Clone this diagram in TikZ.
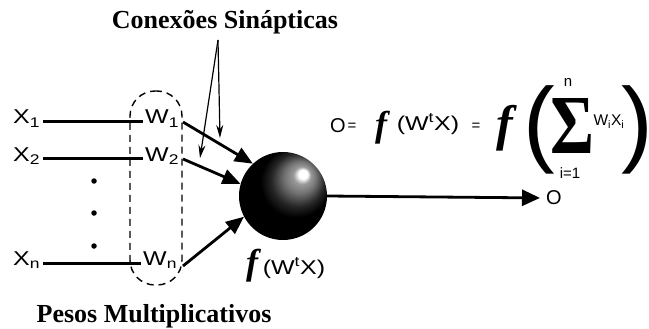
\documentclass[tikz,border=0pt]{standalone}
\usepackage{fontspec}
\setmainfont{Liberation Serif}
\setsansfont{Liberation Sans}
\usepackage{graphicx}
\usetikzlibrary{arrows.meta}
\pgfdeclareradialshading{sphshade}{\pgfpoint{12bp}{13bp}}{color(0bp)=(white); color(2.5bp)=(white); color(5bp)=(white!60!black); color(9bp)=(black!55); color(15bp)=(black!85); color(20bp)=(black); color(50bp)=(black)}
\newcommand{\wideT}[1]{\scalebox{1.25}[1]{#1}}
\begin{document}
\begin{tikzpicture}[x=1pt,y=-1pt,
  title/.style={font=\fontsize{26}{28}\selectfont\bfseries, inner sep=0pt},
  lab/.style={font=\fontsize{20}{21}\selectfont\sffamily, inner sep=0pt},
  small/.style={font=\fontsize{15}{16}\selectfont\sffamily, inner sep=0pt},
  bigf/.style={font=\fontsize{36}{36}\selectfont\bfseries\itshape, inner sep=0pt},
  hugef/.style={font=\fontsize{50}{50}\selectfont\bfseries\itshape, inner sep=0pt},
  paren/.style={font=\fontsize{95}{95}\selectfont\sffamily, inner sep=0pt},
  inline/.style={line width=3pt},
  bigarrow/.style={line width=2.8pt, -{Triangle[length=18pt,width=15pt]}},
  thinarrow/.style={line width=1.2pt, -{Stealth[length=13pt,width=7pt]}},
  grpbox/.style={draw, dash pattern=on 7pt off 5pt, line width=1.4pt, rounded corners=25pt, minimum width=52pt, minimum height=194pt},
  dotm/.style={fill=black, circle, inner sep=0pt, minimum size=5.5pt}]
\fill[white] (0,0) rectangle (649,329);
\useasboundingbox (0,0) rectangle (649,329);

% titles
\node[title, anchor=base] (cs) at (225,29) {Conexões Sinápticas};
\node[title, anchor=base] (pm) at (154,322) {Pesos Multiplicativos};

% inputs
\node[lab, anchor=base west] (x1) at (13,124) {\wideT{X\textsubscript{1}}};
\node[lab, anchor=base west] (x2) at (13,161) {\wideT{X\textsubscript{2}}};
\node[lab, anchor=base west] (xn) at (13,265) {\wideT{X\textsubscript{n}}};
\node[lab, anchor=base west] (w1) at (145,124) {\wideT{W\textsubscript{1}}};
\node[lab, anchor=base west] (w2) at (145,161) {\wideT{W\textsubscript{2}}};
\node[lab, anchor=base west] (wn) at (143,265) {\wideT{W\textsubscript{n}}};

\draw[inline] ([xshift=3pt,yshift=2pt]x1.base east) -- ([xshift=-2pt,yshift=2pt]w1.base west);
\draw[inline] ([xshift=3pt,yshift=2pt]x2.base east) -- ([xshift=-2pt,yshift=2pt]w2.base west);
\draw[inline] ([xshift=3pt,yshift=2pt]xn.base east) -- ([xshift=-2pt,yshift=2pt]wn.base west);

\node[dotm] (d1) at (94,181) {};
\node[dotm] (d2) at (94,213) {};
\node[dotm] (d3) at (94,246) {};

% dashed group
\node[grpbox] (grp) at (156,188) {};

% neuron
\node[circle, minimum size=88pt, inner sep=0pt, shade, shading=sphshade] (sph) at (283,196) {};

\coordinate (s1) at (183,122);
\coordinate (s2) at (183,159);
\coordinate (sn) at (183,266);
\draw[bigarrow] (s1) -- (sph.133);
\draw[bigarrow] (s2) -- (sph.164);
\draw[bigarrow] (sn) -- (sph.208);

% synaptic pointers
\coordinate (apex) at (218,40);
\coordinate (t1) at (220,138);
\coordinate (t2) at (200,158);
\draw[thinarrow] (apex) -- (t1);
\draw[thinarrow] (apex) -- (t2);

% output
\node[lab, anchor=west] (o) at (546,198) {O};
\draw[line width=2.8pt, -{Triangle[length=18pt,width=16pt]}, shorten >=6pt] (sph.east) -- (o.west);

% f(w^t x) below
\node[bigf] (fb) at (252,266) {f};
\node[lab] (fbw) at (294,268) {\wideT{(W\textsuperscript{t}X)}};

% equation
\node[lab] (eqO) at (338,126) {O};
\node[font=\fontsize{15}{15}\selectfont\sffamily, inner sep=0pt] (eqa) at (352,127) {=};
\node[bigf] (f1) at (381,128) {f};
\node[lab] (wtx) at (428,124) {\wideT{(W\textsuperscript{t}X)}};
\node[font=\fontsize{15}{15}\selectfont\sffamily, inner sep=0pt] (eqb) at (476,127) {=};
\node[hugef] (f2) at (505,128) {f};
\node[paren] (lp) at (539,130) {\kern-6pt(\kern-7pt};
\node[font=\fontsize{84}{84}\selectfont\bfseries, inner sep=0pt] (sig) at (572,126) {\scalebox{0.8}[1]{Σ}};
\node[small] (supn) at (568,82) {n};
\node[small] (sub1) at (570,173) {i=1};
\node[font=\fontsize{15.5}{17}\selectfont\sffamily, inner sep=0pt] (wx) at (609,122) {W\textsubscript{i}X\textsubscript{i}};
\node[paren] (rp) at (636,130) {\kern-4pt)\kern-7pt};
\end{tikzpicture}
\end{document}
